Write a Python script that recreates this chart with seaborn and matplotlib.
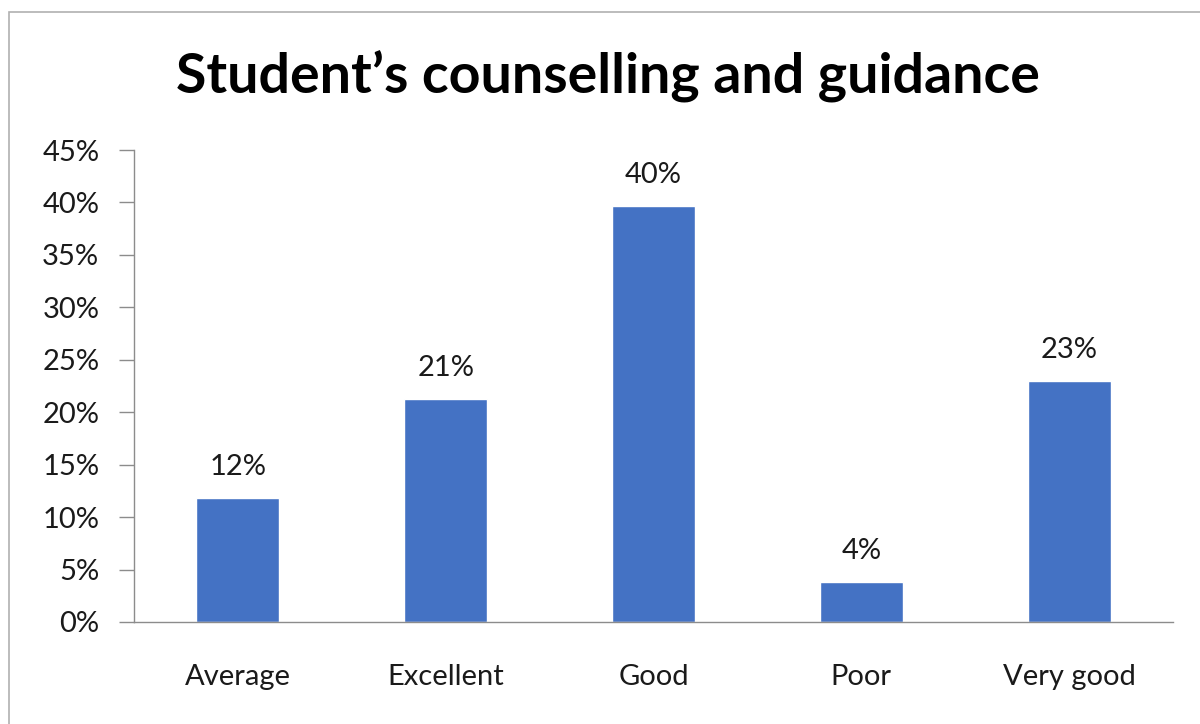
import matplotlib
matplotlib.use('Agg')
import matplotlib.pyplot as plt
import matplotlib.patches as patches
import seaborn as sns
import pandas as pd

categories = ['Average', 'Excellent', 'Good', 'Poor', 'Very good']
shares = [11.8, 21.3, 39.7, 3.8, 23.0]
labels = ['12%', '21%', '40%', '4%', '23%']
yticks = [0, 5, 10, 15, 20, 25, 30, 35, 40, 45]

sns.set_style('white')
plt.rcParams['font.family'] = ['Lato', 'DejaVu Sans']

df = pd.DataFrame({'cat': categories, 'val': shares})

fig = plt.figure(figsize=(12, 7.24), dpi=100)
ax = fig.add_axes([0.1117, 0.1409, 0.8658, 0.6519])

sns.barplot(data=df, x='cat', y='val', color='#4472C4', saturation=1,
            width=0.4, ax=ax)

for i, (v, lab) in enumerate(zip(shares, labels)):
    ax.annotate(lab, (i, v), xytext=(0, 13), textcoords='offset points',
                ha='center', va='bottom', fontsize=21, color='#1a1a1a')

ax.set_xlim(-0.5, len(categories) - 0.5)
ax.set_ylim(0, 45)
ax.set_yticks(yticks)
ax.set_yticklabels([f'{t}%' for t in yticks], fontsize=21, color='#1a1a1a')
ax.set_xticks(range(len(categories)))
ax.set_xticklabels(categories, fontsize=21, color='#1a1a1a')
ax.set_xticks([i - 0.5 for i in range(len(categories) + 1)], minor=True)
ax.tick_params(axis='x', which='major', length=0, pad=30)
ax.tick_params(axis='x', which='minor', length=10, color='#8c8c8c', width=1)
ax.tick_params(axis='y', length=11, color='#8c8c8c', width=1, pad=14, left=True)
ax.set_xlabel('')
ax.set_ylabel('')

for side in ['top', 'right']:
    ax.spines[side].set_visible(False)
for side in ['left', 'bottom']:
    ax.spines[side].set_color('#8c8c8c')
    ax.spines[side].set_linewidth(1)

fig.suptitle('Student\u2019s counselling and guidance', x=0.507, y=0.93,
             fontsize=40, fontweight='bold', color='black')

# chart frame
frame = patches.Rectangle((0.0075, -0.05), 1.1, 0.0334 + 1.0, transform=fig.transFigure,
                          fill=False, edgecolor='#b0b0b0', linewidth=1.2, clip_on=False)
fig.patches.append(frame)

fig.savefig('out.png', dpi=100)
